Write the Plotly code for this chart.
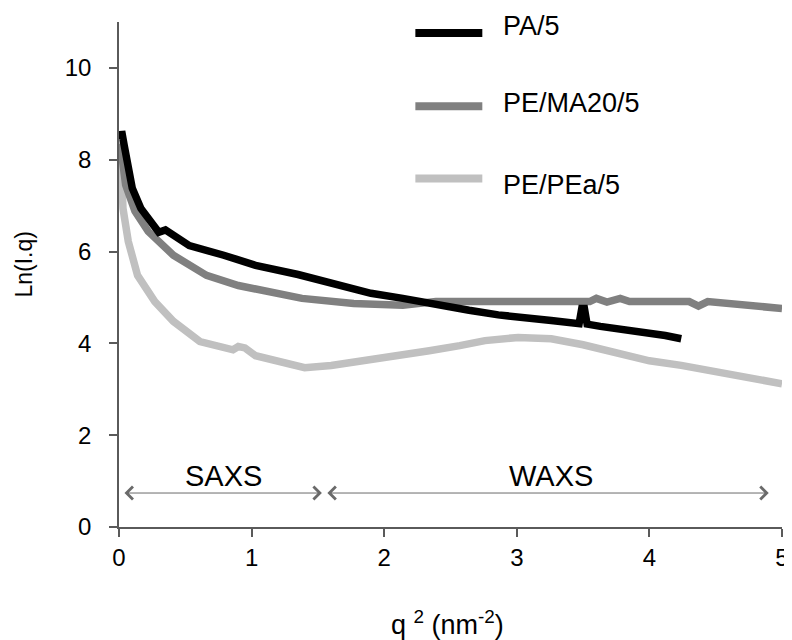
import plotly.graph_objects as go

# PA/5 (black)
pa_x = [0.015, 0.02, 0.04, 0.067, 0.10, 0.165, 0.27, 0.30, 0.35, 0.40, 0.53, 0.79, 1.03, 1.35, 1.65,
        1.90, 2.14, 2.39, 2.64, 2.86, 3.01, 3.26, 3.47, 3.49, 3.51, 3.53, 3.63, 3.87, 4.12, 4.24]
pa_y = [8.45, 8.62, 8.30, 7.82, 7.38, 6.94, 6.50, 6.42, 6.47, 6.38, 6.13, 5.92, 5.70, 5.50, 5.26,
        5.09, 4.98, 4.83, 4.72, 4.62, 4.56, 4.50, 4.43, 4.76, 4.76, 4.42, 4.37, 4.28, 4.17, 4.10]

# PE/MA20/5 (mid grey)
ma_x = [0.01, 0.03, 0.05, 0.12, 0.22, 0.41, 0.66, 0.90, 1.16, 1.38, 1.77, 2.14, 2.39, 2.86, 3.30,
        3.55, 3.60, 3.68, 3.78, 3.85, 4.30, 4.37, 4.44, 4.74, 5.00]
ma_y = [8.35, 7.90, 7.45, 6.88, 6.44, 5.92, 5.48, 5.26, 5.13, 4.98, 4.87, 4.83, 4.91, 4.91, 4.91,
        4.91, 4.98, 4.90, 4.98, 4.91, 4.91, 4.81, 4.91, 4.83, 4.76]

# PE/PEa/5 (light grey)
pea_x = [0.01, 0.03, 0.07, 0.14, 0.27, 0.41, 0.61, 0.79, 0.86, 0.90, 0.95, 1.03, 1.28, 1.40, 1.60,
         1.85, 2.09, 2.34, 2.57, 2.76, 3.01, 3.26, 3.50, 3.75, 4.00, 4.24, 4.50, 4.74, 5.00]
pea_y = [8.45, 6.94, 6.22, 5.48, 4.91, 4.48, 4.04, 3.89, 3.86, 3.93, 3.90, 3.73, 3.56, 3.47, 3.52,
         3.62, 3.73, 3.84, 3.95, 4.06, 4.13, 4.10, 3.97, 3.78, 3.62, 3.52, 3.38, 3.23, 3.12]

series_names = ["PA/5", "PE/MA20/5", "PE/PEa/5"]
series_colors = ["#000000", "#808080", "#c0c0c0"]

x_ticks = [0, 1, 2, 3, 4, 5]
y_ticks = [0, 2, 4, 6, 8, 10]

# SAXS / WAXS range markers
region_labels = ["SAXS", "WAXS"]
region_start = [0.03, 1.56]
region_end = [1.53, 4.90]
region_label_x = [0.79, 3.26]

FONT = "Liberation Sans, Arial, sans-serif"

fig = go.Figure()
# light grey first so the black curve sits on top
for name, xs, ys, color in reversed(list(zip(series_names, [pa_x, ma_x, pea_x],
                                              [pa_y, ma_y, pea_y], series_colors))):
    fig.add_trace(go.Scatter(x=xs, y=ys, mode="lines", name=name,
                             line=dict(color=color, width=7.5), showlegend=False))

# manual legend (Excel-style, long thick swatches)
legend_y = [0.978, 0.833, 0.690]
legend_text_y = [0.992, 0.840, 0.677]
for name, color, ly, ty in zip(series_names, series_colors, legend_y, legend_text_y):
    fig.add_shape(type="line", xref="paper", yref="paper", x0=0.447, x1=0.548, y0=ly, y1=ly,
                  line=dict(color=color, width=8))
    fig.add_annotation(xref="paper", yref="paper", x=0.576, y=ty, text=name, showarrow=False,
                       xanchor="left", yanchor="middle", font=dict(size=27, color="black", family=FONT))

for label, x0, x1, lx in zip(region_labels, region_start, region_end, region_label_x):
    fig.add_annotation(x=x1, y=0.74, ax=x0, ay=0.74, xref="x", yref="y", axref="x", ayref="y",
                       text="", showarrow=True, arrowhead=4, startarrowhead=4, arrowside="end+start",
                       arrowsize=2.5, startarrowsize=2.5, arrowwidth=1, arrowcolor="#6a6a6a")
    fig.add_annotation(x=lx, y=1.11, xref="x", yref="y", text=label, showarrow=False,
                       font=dict(size=29, color="black", family=FONT))

fig.add_annotation(xref="paper", yref="paper", x=0.496, y=-0.19, showarrow=False,
                   text="q <sup>2</sup> (nm<sup>-2</sup>)", yanchor="middle",
                   font=dict(size=27, color="black", family=FONT))
fig.add_annotation(xref="paper", yref="paper", x=-0.143, y=0.52, showarrow=False,
                   text="Ln(I.q)", textangle=-90, xanchor="center", yanchor="middle",
                   font=dict(size=23, color="black", family=FONT))

fig.update_layout(
    width=792, height=640,
    margin=dict(l=111, r=11, t=14, b=121),
    plot_bgcolor="white", paper_bgcolor="white",
    font=dict(family=FONT, size=24, color="black"),
)
fig.update_xaxes(range=[0, 5], tickvals=x_ticks, showgrid=False, zeroline=False,
                 showline=True, linecolor="#5a5a5a", linewidth=1.5,
                 ticks="outside", ticklen=8, tickcolor="#5a5a5a", tickwidth=1.5,
                 ticklabelstandoff=0, ticklabeloverflow="allow", tickfont=dict(size=24))
fig.update_yaxes(range=[0, 11], tickvals=y_ticks, showgrid=False, zeroline=False,
                 showline=True, linecolor="#5a5a5a", linewidth=1.5,
                 ticks="outside", ticklen=8, tickcolor="#5a5a5a", tickwidth=1.5,
                 ticklabelstandoff=13, tickfont=dict(size=24))

fig.write_html("out.html")
